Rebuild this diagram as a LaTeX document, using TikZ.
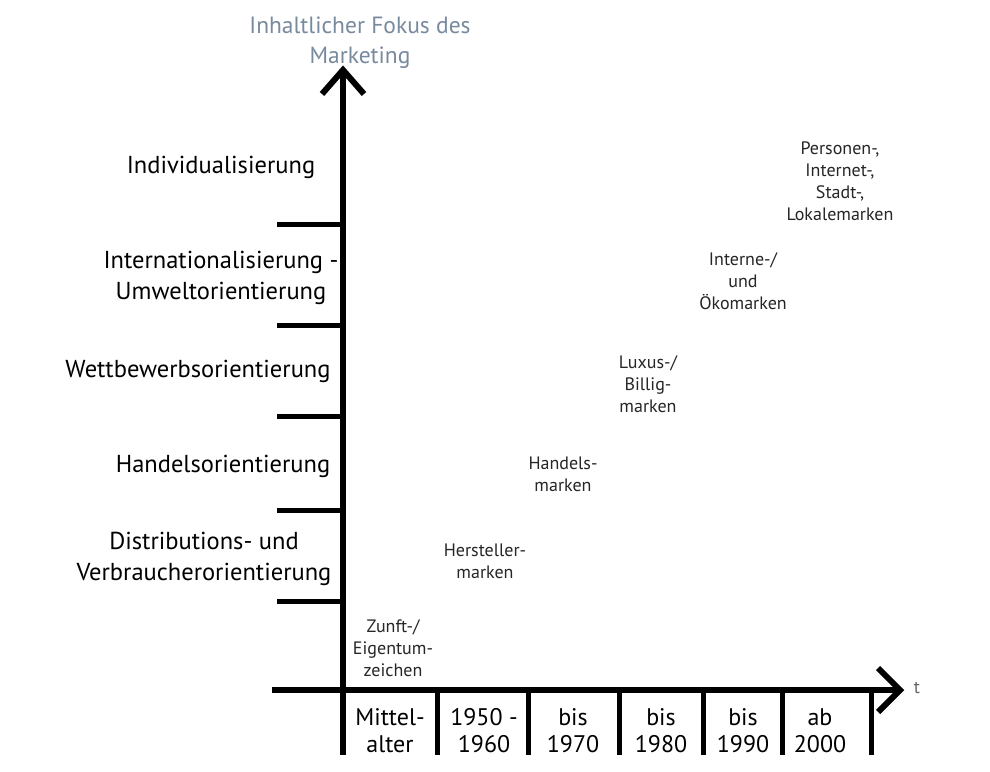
\documentclass[tikz,border=0pt]{standalone}
\usepackage{fontspec}
\setmainfont{PT Sans}
\begin{document}
\begin{tikzpicture}[x=1pt,y=-1pt,
  axis/.style={line width=6pt, line join=miter, black},
  ticky/.style={line width=5pt, black},
  big/.style={font=\fontsize{24.5}{31}\selectfont, align=center, text=black, inner sep=0pt},
  small/.style={font=\fontsize{18}{22}\selectfont, align=center, text=black!85, inner sep=0pt},
  yearlbl/.style={font=\fontsize{24}{27}\selectfont, align=center, text=black, inner sep=0pt},
  titlelbl/.style={font=\fontsize{23.5}{30}\selectfont, align=center, text={rgb,255:red,120;green,138;blue,158}, inner sep=0pt}]
\useasboundingbox[fill=white] (0,0) rectangle (990,771);
% axes
\coordinate (ytip) at (343,70);
\coordinate (ybot) at (343,755);
\coordinate (xleft) at (272,690);
\coordinate (xtip) at (900,690);
\draw[axis] (ybot) -- (ytip);
\draw[axis] (ytip) ++(-21,24) -- (ytip) -- ++(21,24);
\draw[axis] (xleft) -- (xtip);
\draw[axis] (xtip) ++(-22,-22) -- (xtip) -- ++(-22,22);
% y ticks
\foreach \yy/\nm in {224/a,325/b,416/c,510/d,601/e}{
  \coordinate (yt\nm) at (277,\yy);
  \coordinate (ya\nm) at (343,\yy);
  \draw[ticky] (yt\nm) -- (ya\nm);
}
% x ticks
\foreach \xx/\nm in {437/a,528/b,619/c,703/d,782/e,871/f}{
  \coordinate (xt\nm) at (\xx,690);
  \coordinate (xb\nm) at (\xx,755);
  \draw[ticky] (xt\nm) -- (xb\nm);
}
% title
\node[titlelbl] (title) at (360,43) {Inhaltlicher Fokus des\\Marketing};
\node[font=\fontsize{18}{18}\selectfont, text=black!60] (tlbl) at (917,688) {t};
% left labels
\node[big] (l1) at (221,167) {Individualisierung};
\node[big] (l2) at (221,278) {Internationalisierung -\\Umweltorientierung};
\node[big] (l3) at (198,371) {Wettbewerbsorientierung};
\node[big] (l4) at (223,466) {Handelsorientierung};
\node[big] (l5) at (204,559) {Distributions- und\\Verbraucherorientierung};
% brands
\node[small] (b1) at (393,648) {Zunft-/\\Eigentum-\\zeichen};
\node[small] (b2) at (485,561) {Hersteller-\\marken};
\node[small] (b3) at (563,474) {Handels-\\marken};
\node[small] (b4) at (648,384) {Luxus-/\\Billig-\\marken};
\node[small] (b5) at (743,281) {Interne-/\\und\\Ökomarken};
\node[small] (b6) at (840,181) {Personen-,\\Internet-,\\Stadt-,\\Lokalemarken};
% years
\node[yearlbl] (j1) at (390,731) {Mittel-\\alter};
\node[yearlbl] (j2) at (484,731) {1950 -\\1960};
\node[yearlbl] (j3) at (573,731) {bis\\1970};
\node[yearlbl] (j4) at (661,731) {bis\\1980};
\node[yearlbl] (j5) at (743,731) {bis\\1990};
\node[yearlbl] (j6) at (820,731) {ab\\2000};
\end{tikzpicture}
\end{document}
